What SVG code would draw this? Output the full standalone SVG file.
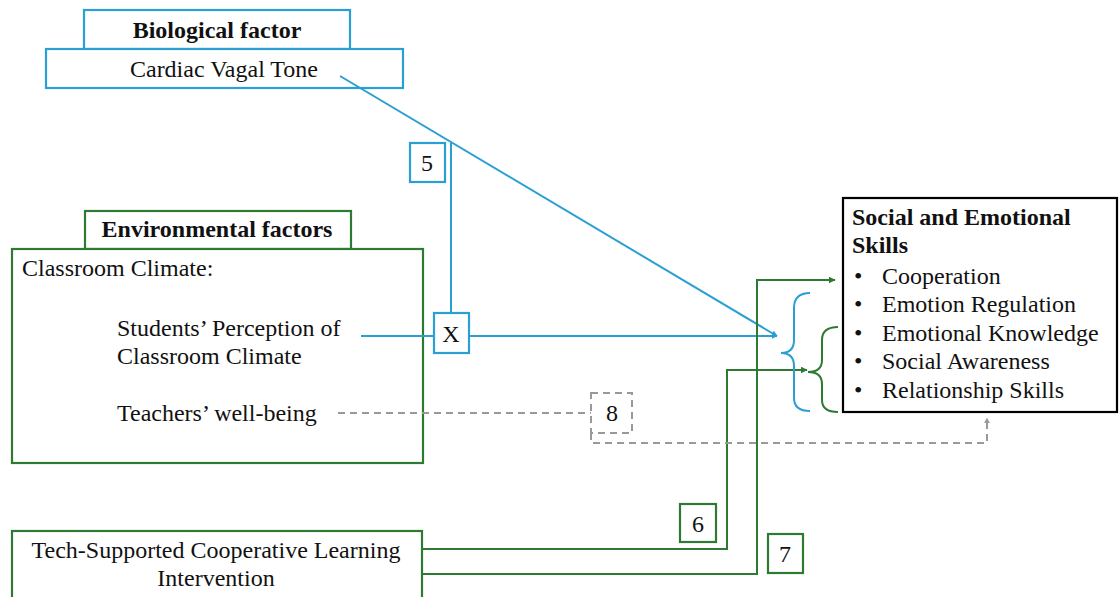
<svg xmlns="http://www.w3.org/2000/svg" width="1120" height="597" viewBox="0 0 1120 597">
<style>
text{font-family:'Liberation Serif','Times New Roman','DejaVu Serif',serif;font-size:24px;fill:#111}
.b{font-weight:bold}
.m{text-anchor:middle}
.blue{fill:#fff;stroke:#2a9fd3;stroke-width:2.2}
.green{fill:#fff;stroke:#2f7a32;stroke-width:2.2}
.lb{fill:none;stroke:#2a9fd3;stroke-width:2}
.lg{fill:none;stroke:#2f7a32;stroke-width:2}
.ld{fill:none;stroke:#999;stroke-width:2;stroke-dasharray:7 5}
</style>
<defs>
<marker id="ab" viewBox="0 0 10 10" refX="9" refY="5" markerWidth="6" markerHeight="6" orient="auto" markerUnits="userSpaceOnUse"><path d="M0,0 L10,5 L0,10 z" fill="#2a9fd3"/></marker>
<marker id="ag" viewBox="0 0 10 10" refX="9" refY="5" markerWidth="7" markerHeight="7" orient="auto" markerUnits="userSpaceOnUse"><path d="M0,0 L10,5 L0,10 z" fill="#2f7a32"/></marker>
<marker id="ad" viewBox="0 0 10 10" refX="9" refY="5" markerWidth="6" markerHeight="6" orient="auto" markerUnits="userSpaceOnUse"><path d="M0,0 L10,5 L0,10 z" fill="#999"/></marker>
</defs>
<g id="bio-header"><rect class="blue" x="84" y="10" width="266" height="39"/><text class="b m" x="217" y="38">Biological factor</text></g>
<g id="cardiac"><rect class="blue" x="46" y="49" width="357" height="39"/><text class="m" x="224" y="77">Cardiac Vagal Tone</text></g>
<g id="env-header"><rect class="green" x="85" y="211" width="266" height="38"/><text class="b m" x="217" y="237">Environmental factors</text></g>
<g id="env"><rect class="green" x="12" y="249" width="411" height="214"/>
<text x="22" y="276">Classroom Climate:</text>
<text x="117" y="336">Students’ Perception of</text>
<text x="117" y="364">Classroom Climate</text>
<text x="117" y="421">Teachers’ well-being</text></g>
<g id="tech"><rect class="green" x="12" y="531" width="410" height="70"/>
<text class="m" x="216" y="558">Tech-Supported Cooperative Learning</text>
<text class="m" x="216" y="586">Intervention</text></g>
<g id="skills"><rect x="843" y="198" width="274" height="214" fill="#fff" stroke="#000" stroke-width="2.2"/>
<text class="b" x="852" y="225">Social and Emotional</text>
<text class="b" x="852" y="253">Skills</text>
<text x="854" y="284">•</text><text x="882" y="284">Cooperation</text>
<text x="854" y="312">•</text><text x="882" y="312">Emotion Regulation</text>
<text x="854" y="341">•</text><text x="882" y="341">Emotional Knowledge</text>
<text x="854" y="369">•</text><text x="882" y="369">Social Awareness</text>
<text x="854" y="398">•</text><text x="882" y="398">Relationship Skills</text></g>
<g id="connectors">
<path class="lb" d="M340,76 L777,336" marker-end="url(#ab)"/>
<path class="lb" d="M361,336 L777,336" marker-end="url(#ab)"/>
<path class="lb" d="M451,143 L451,313"/>
<path class="lg" d="M422,549 L727,549 L727,370 L807,370" marker-end="url(#ag)"/>
<path class="lg" d="M422,574 L757,574 L757,280 L835,280" marker-end="url(#ag)"/>
<path class="ld" d="M338,413 L591,413"/>
<path class="ld" d="M591,433 L591,443 L987,443 L987,418" marker-end="url(#ad)"/>
<path class="lb" d="M810,293 Q794,293 794,308 L794,340 Q794,353 781,353 Q794,353 794,366 L794,398 Q794,411 810,411"/>
<path class="lg" d="M838,327 Q822,327 822,340 L822,360 Q822,372 808,372 Q822,372 822,384 L822,400 Q822,412 838,412"/>
</g>
<g id="label5"><rect class="blue" x="410" y="143" width="35" height="39"/><text class="m" x="427" y="171">5</text></g>
<g id="labelX"><rect class="blue" x="434" y="313" width="35" height="40"/><text class="m" x="451" y="342">X</text></g>
<g id="label8"><rect class="ld" x="591" y="393" width="41" height="40" fill="#fff"/><text class="m" x="612" y="421">8</text></g>
<g id="label6"><rect class="green" x="680" y="504" width="36" height="38"/><text class="m" x="698" y="532">6</text></g>
<g id="label7"><rect class="green" x="768" y="534" width="35" height="39"/><text class="m" x="785" y="562">7</text></g>
</svg>
